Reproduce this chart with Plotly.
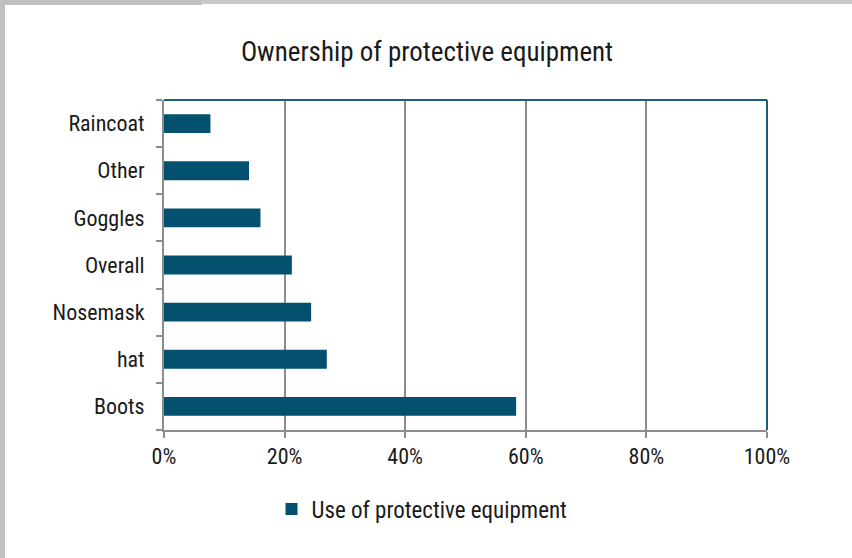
import plotly.graph_objects as go

categories = ["Boots", "hat", "Nosemask", "Overall", "Goggles", "Other", "Raincoat"]
values = [0.584, 0.270, 0.244, 0.212, 0.160, 0.141, 0.077]
series_name = "Use of protective equipment"
x_ticks = [0, 0.2, 0.4, 0.6, 0.8, 1.0]

FONT = "Liberation Sans Narrow, Arial Narrow, Roboto Condensed, Liberation Sans, sans-serif"
BAR = "#03506F"
GRID = "#8C8C8C"
BLUE = "#1B5E80"

W, H = 852, 558
L, R, T, B = 164, 767, 100, 430

def px_x(x):
    return (x - L) / (R - L)

def px_y(y):
    return (B - y) / (B - T)

fig = go.Figure(go.Bar(
    y=categories, x=values, orientation="h", name=series_name,
    marker=dict(color=BAR, line=dict(width=0)), showlegend=True,
))

shapes = [
    # outer gray frame (left and top)
    dict(type="rect", xref="paper", yref="paper", x0=px_x(0), x1=px_x(5), y0=px_y(H), y1=px_y(0),
         fillcolor="#C0C0C0", line=dict(width=0), layer="above"),
    dict(type="rect", xref="paper", yref="paper", x0=px_x(0), x1=px_x(202), y0=px_y(5), y1=px_y(0),
         fillcolor="#C0C0C0", line=dict(width=0), layer="above"),
    dict(type="rect", xref="paper", yref="paper", x0=px_x(202), x1=px_x(W), y0=px_y(4), y1=px_y(0),
         fillcolor="#C8C8C8", line=dict(width=0), layer="above"),
    # blue top and right border
    dict(type="line", xref="paper", yref="paper", x0=0, x1=1, y0=1, y1=1,
         line=dict(color=BLUE, width=2), layer="above"),
    dict(type="line", xref="paper", yref="paper", x0=1, x1=1, y0=0, y1=1,
         line=dict(color=BLUE, width=2), layer="above"),
]

fig.update_layout(
    width=W, height=H,
    margin=dict(l=L, r=W - R, t=T, b=H - B, pad=0),
    paper_bgcolor="white", plot_bgcolor="white",
    font=dict(family=FONT, size=22, color="#1A1A1A"),
    title=dict(text="Ownership of protective equipment", x=px_x(427), xanchor="center",
               xref="paper", y=1 - 52 / H, yanchor="middle", font=dict(size=27)),
    bargap=0.6,
    xaxis=dict(range=[0, 1], tickvals=x_ticks, tickformat=".0%", showgrid=True,
               gridcolor=GRID, gridwidth=2, showline=True, linecolor=GRID, linewidth=2,
               ticks="outside", ticklen=6, tickcolor=GRID, tickwidth=2, zeroline=False,
               fixedrange=True),
    yaxis=dict(type="category", categoryorder="array", categoryarray=categories,
               showline=True, linecolor=GRID, linewidth=2, ticks="outside", ticklen=6,
               tickcolor=GRID, tickwidth=2, tickson="boundaries", showgrid=False,
               ticklabelstandoff=13),
    legend=dict(orientation="h", x=px_x(422), xanchor="center", y=px_y(509), yanchor="middle",
                font=dict(size=23), itemwidth=30, bgcolor="rgba(0,0,0,0)"),
    shapes=shapes,
)

fig.write_html("out.html")
